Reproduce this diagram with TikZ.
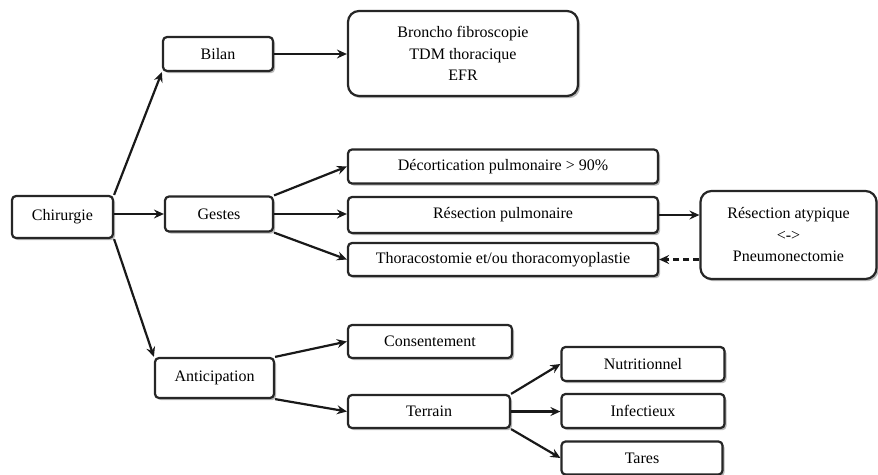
\documentclass[tikz,border=0pt]{standalone}
\usepackage{fontspec}
\setmainfont{Liberation Serif}
\usetikzlibrary{arrows.meta,shadows}
\begin{document}
\begin{tikzpicture}[x=1pt,y=-1pt,
  box/.style={draw=black!85, line width=2.2pt, rounded corners=4pt, fill=white,
    drop shadow={shadow xshift=2pt, shadow yshift=-2.2pt, opacity=0.5, fill=black!55},
    inner sep=0pt, align=center, font=\fontsize{16}{21.5}\selectfont},
  bigbox/.style={box, rounded corners=11pt},
  link/.style={line width=2.2pt, draw=black!90, -{Stealth[length=10pt,width=9pt,inset=3.5pt]}},
  back/.style={link, dash pattern=on 6pt off 4pt}]
\useasboundingbox (0,0) rectangle (878,474);

% left column
\node[box, minimum width=101pt, minimum height=42pt] (chir) at (62.5,217) {Chirurgie};

% second column
\node[box, minimum width=110pt, minimum height=34pt] (bilan) at (218,54) {Bilan};
\node[box, minimum width=108pt, minimum height=35pt] (gestes) at (219,214) {Gestes};
\node[box, minimum width=119pt, minimum height=40pt] (antic) at (214.5,378) {Anticipation};

% third column
\node[bigbox, minimum width=230pt, minimum height=85pt] (bilanlist) at (463,53.5)
  {Broncho fibroscopie\\TDM thoracique\\EFR};
\node[box, minimum width=310pt, minimum height=34pt] (decort) at (503,166.5) {Décortication pulmonaire > 90\%};
\node[box, minimum width=310pt, minimum height=36pt] (resec) at (503,215) {Résection pulmonaire};
\node[box, minimum width=310pt, minimum height=33pt] (thora) at (503,259.5) {Thoracostomie et/ou thoracomyoplastie};
\node[box, minimum width=164pt, minimum height=33pt] (consent) at (430,341.5) {Consentement};
\node[box, minimum width=162pt, minimum height=33pt] (terrain) at (429,411.5) {Terrain};

% right column
\node[bigbox, minimum width=176pt, minimum height=88pt] (atyp) at (788.5,235)
  {Résection atypique\\<->\\Pneumonectomie};
\node[box, minimum width=163pt, minimum height=34pt] (nutri) at (643,364) {Nutritionnel};
\node[box, minimum width=163pt, minimum height=34pt] (infect) at (643,411) {Infectieux};
\node[box, minimum width=161pt, minimum height=33pt] (tares) at (642,458) {Tares};

% connectors
\draw[link] (chir.north east) -- (bilan.south west);
\draw[link] (chir.east |- gestes.west) -- (gestes.west);
\draw[link] (chir.south east) -- (antic.north west);
\draw[link] (bilan.east) -- (bilanlist.west |- bilan.east);

\draw[link] (gestes.north east) -- (decort.west);
\draw[link] (gestes.east) -- (resec.west |- gestes.east);
\draw[link] (gestes.south east) -- (thora.west);
\draw[link] (resec.east) -- (atyp.west |- resec.east);
\draw[back] (atyp.west |- thora.east) -- (thora.east);

\draw[link] (antic.north east) -- (consent.west);
\draw[link] (antic.south east) -- (terrain.west);
\draw[link] (terrain.north east) -- (nutri.west);
\draw[link] (terrain.east) -- (infect.west |- terrain.east);
\draw[link] (terrain.south east) -- (tares.west);
\end{tikzpicture}
\end{document}
